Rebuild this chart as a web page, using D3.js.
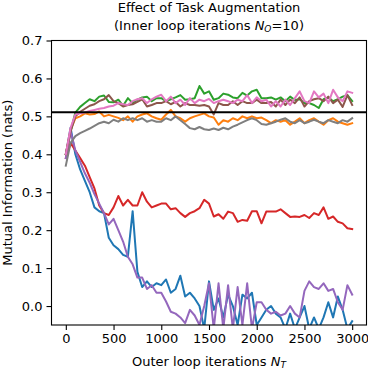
<!DOCTYPE html>
<html>
<head>
<meta charset="utf-8">
<script src="https://cdn.jsdelivr.net/npm/d3@7"></script>
<style>
body { margin: 0; background: #fff; }
svg { display: block; }
text { font-family: "DejaVu Sans", sans-serif; fill: #000; }
</style>
</head>
<body>
<svg id="chart" width="368" height="370"></svg>
<script>
// ---- data (x every 50 outer-loop iterations) ----
const iterations = d3.range(0, 3001, 50);
const seriesNames = ["blue", "orange", "green", "red", "purple", "brown", "pink", "gray"];
const seriesColors = ["#1f77b4", "#ff7f0e", "#2ca02c", "#d62728", "#9467bd", "#8c564b", "#e377c2", "#7f7f7f"];

const blueVals = [0.40,0.47,0.40,0.36,0.33,0.30,0.26,0.25,0.245,0.18,0.16,0.15,0.135,0.13,0.25,0.09,0.05,0.065,0.05,0.06,
  0.055,0.07,0.035,0.045,0.08,0.025,0.035,0.02,0.0,-0.06,0.065,-0.01,0.02,-0.03,0.03,0.0,-0.05,0.03,0.02,0.035,
  -0.05,-0.03,-0.01,0.0,-0.02,-0.03,-0.06,-0.02,-0.06,-0.03,0.0,-0.06,-0.03,-0.06,-0.03,0.01,-0.03,0.025,-0.01,-0.06,-0.04];
const orangeVals = [0.40,0.465,0.495,0.50,0.508,0.505,0.506,0.513,0.50,0.504,0.50,0.496,0.49,0.50,0.486,0.50,0.505,0.508,0.50,0.495,
  0.491,0.505,0.517,0.50,0.495,0.486,0.495,0.50,0.504,0.508,0.50,0.497,0.478,0.49,0.486,0.495,0.49,0.50,0.495,0.50,
  0.495,0.497,0.49,0.482,0.49,0.486,0.49,0.478,0.486,0.495,0.482,0.49,0.495,0.486,0.478,0.49,0.495,0.486,0.482,0.478,0.482];
const greenVals = [0.40,0.46,0.51,0.525,0.535,0.545,0.54,0.552,0.555,0.538,0.537,0.544,0.528,0.548,0.535,0.544,0.55,0.552,0.54,0.548,
  0.548,0.54,0.545,0.55,0.556,0.544,0.545,0.548,0.58,0.56,0.566,0.544,0.548,0.56,0.557,0.55,0.548,0.562,0.555,0.566,
  0.57,0.548,0.548,0.55,0.544,0.55,0.54,0.552,0.543,0.545,0.535,0.535,0.53,0.522,0.545,0.55,0.54,0.545,0.552,0.556,0.54];
const redVals = [0.39,0.43,0.41,0.39,0.37,0.34,0.31,0.265,0.245,0.24,0.26,0.29,0.265,0.28,0.265,0.265,0.30,0.275,0.26,0.265,
  0.27,0.27,0.255,0.258,0.245,0.235,0.245,0.25,0.258,0.28,0.27,0.236,0.242,0.23,0.249,0.245,0.222,0.227,0.225,0.25,
  0.25,0.218,0.249,0.249,0.249,0.255,0.245,0.235,0.236,0.235,0.24,0.232,0.245,0.24,0.26,0.23,0.236,0.222,0.218,0.205,0.203];
const purpleVals = [0.39,0.46,0.41,0.38,0.35,0.325,0.295,0.27,0.245,0.215,0.23,0.20,0.17,0.13,0.11,0.075,0.075,0.045,0.055,0.035,
  0.035,0.012,-0.015,-0.02,-0.03,-0.045,-0.01,-0.025,-0.05,0.0,0.06,-0.06,0.06,-0.06,0.055,-0.06,0.05,-0.05,0.06,-0.06,
  0.01,0.01,-0.01,-0.02,-0.015,-0.025,-0.02,0.0,-0.02,-0.03,0.04,0.065,0.05,0.045,0.06,0.04,0.045,0.01,-0.01,0.055,0.03];
const brownVals = [0.40,0.46,0.50,0.512,0.52,0.528,0.532,0.54,0.545,0.556,0.54,0.535,0.526,0.53,0.532,0.538,0.545,0.526,0.53,0.535,
  0.535,0.54,0.532,0.538,0.526,0.535,0.53,0.53,0.528,0.53,0.526,0.505,0.535,0.53,0.53,0.54,0.53,0.54,0.535,0.535,
  0.544,0.535,0.535,0.538,0.526,0.544,0.53,0.544,0.535,0.55,0.526,0.54,0.545,0.548,0.54,0.552,0.535,0.544,0.525,0.556,0.53];
const pinkVals = [0.40,0.47,0.505,0.508,0.51,0.514,0.517,0.52,0.522,0.526,0.528,0.535,0.532,0.53,0.54,0.545,0.548,0.535,0.545,0.552,
  0.557,0.54,0.552,0.535,0.544,0.53,0.548,0.535,0.544,0.54,0.546,0.535,0.54,0.544,0.54,0.535,0.544,0.54,0.556,0.535,
  0.55,0.54,0.544,0.526,0.54,0.526,0.544,0.53,0.548,0.566,0.54,0.535,0.566,0.55,0.56,0.535,0.57,0.55,0.54,0.566,0.562];
const grayVals = [0.37,0.43,0.448,0.456,0.462,0.468,0.475,0.482,0.486,0.482,0.491,0.486,0.495,0.49,0.495,0.49,0.495,0.486,0.49,0.486,
  0.486,0.495,0.49,0.50,0.49,0.48,0.469,0.466,0.472,0.466,0.464,0.468,0.464,0.47,0.466,0.473,0.478,0.484,0.49,0.495,
  0.49,0.48,0.478,0.482,0.486,0.491,0.495,0.486,0.482,0.49,0.482,0.486,0.491,0.486,0.482,0.49,0.486,0.482,0.49,0.486,0.495];
const seriesValues = [blueVals, orangeVals, greenVals, redVals, purpleVals, brownVals, pinkVals, grayVals];

const refLine = 0.511;
const xTicks = [0, 500, 1000, 1500, 2000, 2500, 3000];
const yTicks = [0.0, 0.1, 0.2, 0.3, 0.4, 0.5, 0.6, 0.7];

// ---- layout ----
const svg = d3.select("#chart");
const pLeft = 51.5, pRight = 366.5, pTop = 40.5, pBottom = 325;
const x = d3.scaleLinear().domain([-150, 3150]).range([pLeft, pRight]);
const y = d3.scaleLinear().domain([-0.05, 0.7]).range([pBottom, pTop]);

svg.append("defs").append("clipPath").attr("id", "plotclip")
  .append("rect").attr("x", pLeft).attr("y", pTop).attr("width", pRight - pLeft).attr("height", pBottom - pTop);

const line = d3.line().x((d, i) => x(iterations[i])).y(d => y(d));
const plot = svg.append("g").attr("clip-path", "url(#plotclip)");
seriesValues.forEach((vals, k) => {
  plot.append("path").datum(vals)
    .attr("d", line)
    .attr("fill", "none")
    .attr("stroke", seriesColors[k])
    .attr("stroke-width", 2)
    .attr("stroke-linejoin", "round")
    .attr("stroke-linecap", "square");
});

// horizontal reference line
svg.append("line")
  .attr("x1", pLeft).attr("x2", pRight)
  .attr("y1", y(refLine)).attr("y2", y(refLine))
  .attr("stroke", "#000").attr("stroke-width", 2);

// axes
const xAxis = svg.append("g").attr("transform", `translate(0,${pBottom})`)
  .call(d3.axisBottom(x).tickValues(xTicks).tickFormat(d3.format("d")).tickSizeOuter(0).tickSize(5).tickPadding(4));
const yAxis = svg.append("g").attr("transform", `translate(${pLeft},0)`)
  .call(d3.axisLeft(y).tickValues(yTicks).tickFormat(d3.format(".1f")).tickSizeOuter(0).tickSize(5).tickPadding(4));
[xAxis, yAxis].forEach(g => {
  g.select(".domain").remove();
  g.selectAll(".tick line").attr("stroke", "#000").attr("stroke-width", 1.1);
  g.selectAll(".tick text").attr("font-family", "DejaVu Sans").attr("font-size", 13).attr("fill", "#000");
});

// frame
svg.append("rect").attr("x", pLeft).attr("y", pTop).attr("width", pRight - pLeft).attr("height", pBottom - pTop)
  .attr("fill", "none").attr("stroke", "#000").attr("stroke-width", 1.1);

// titles
const cx = (pLeft + pRight) / 2;
svg.append("text").attr("x", cx).attr("y", 12).attr("text-anchor", "middle").attr("font-size", 13)
  .text("Effect of Task Augmentation");
const t2 = svg.append("text").attr("x", cx).attr("y", 29.5).attr("text-anchor", "middle").attr("font-size", 13);
t2.append("tspan").text("(Inner loop iterations ");
t2.append("tspan").attr("font-style", "italic").text("N");
t2.append("tspan").attr("font-style", "italic").attr("font-size", 9).attr("dy", 2).text("O");
t2.append("tspan").attr("dy", -2).text("=10)");

const xl = svg.append("text").attr("x", cx).attr("y", 365.5).attr("text-anchor", "middle").attr("font-size", 13);
xl.append("tspan").text("Outer loop iterations ");
xl.append("tspan").attr("font-style", "italic").text("N");
xl.append("tspan").attr("font-style", "italic").attr("font-size", 9).attr("dy", 2).text("T");

svg.append("text").attr("transform", `translate(12,${(pTop + pBottom) / 2}) rotate(-90)`)
  .attr("text-anchor", "middle").attr("font-size", 13)
  .text("Mutual Information (nats)");
</script>
</body>
</html>
